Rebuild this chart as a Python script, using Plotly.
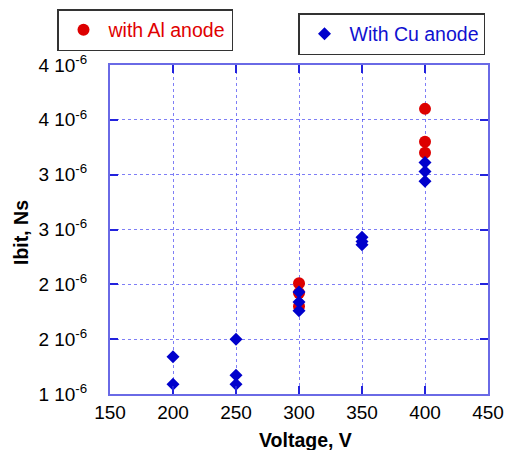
import plotly.graph_objects as go

# Data
al_voltage = [300, 300, 300, 400, 400, 400]
al_ibit = [2.01e-6, 1.92e-6, 1.80e-6, 3.60e-6, 3.30e-6, 3.20e-6]

cu_voltage = [200, 200, 250, 250, 250, 300, 300, 300, 350, 350, 350, 400, 400, 400]
cu_ibit = [1.34e-6, 1.09e-6, 1.50e-6, 1.17e-6, 1.09e-6, 1.93e-6, 1.84e-6, 1.76e-6,
           2.43e-6, 2.39e-6, 2.36e-6, 3.11e-6, 3.03e-6, 2.94e-6]

y_tickvals = [1.0e-6, 1.5e-6, 2.0e-6, 2.5e-6, 3.0e-6, 3.5e-6, 4.0e-6]
y_ticktext = ["1 10<sup>-6</sup>", "2 10<sup>-6</sup>", "2 10<sup>-6</sup>", "3 10<sup>-6</sup>",
              "3 10<sup>-6</sup>", "4 10<sup>-6</sup>", "4 10<sup>-6</sup>"]
x_tickvals = [150, 200, 250, 300, 350, 400, 450]

x_title = "Voltage, V"
y_title = "Ibit, Ns"

FONT = "Arial, Liberation Sans, sans-serif"
AXCOL = "#6a6ae6"
GRIDCOL = "rgba(40,40,240,0.6)"

fig = go.Figure()
fig.add_trace(go.Scatter(
    x=al_voltage, y=al_ibit, mode="markers", name="with Al anode",
    marker=dict(symbol="circle", size=12, color="#dd0000"),
    legend="legend"))
fig.add_trace(go.Scatter(
    x=cu_voltage, y=cu_ibit, mode="markers", name="With Cu anode",
    marker=dict(symbol="diamond", size=10, color="#0000cc"),
    legend="legend2"))

axis_common = dict(
    showline=True, linecolor=AXCOL, linewidth=2, mirror="ticks",
    ticks="inside", ticklen=8, tickcolor="#2222dd", tickwidth=1.5,
    showgrid=True, gridcolor=GRIDCOL, griddash="dot", gridwidth=1,
    zeroline=False, automargin=False,
    tickfont=dict(family=FONT, size=19, color="black"),
)

fig.update_xaxes(range=[150, 450], tickvals=x_tickvals, **axis_common)
fig.update_yaxes(range=[1.0e-6, 4.0e-6], tickvals=y_tickvals, ticktext=y_ticktext,
                 ticklabelstandoff=17, **axis_common)

fig.add_annotation(text="<b>" + x_title + "</b>", xref="paper", yref="paper",
                   x=(305 - 110) / 378, y=(394 - 440) / 329, xanchor="center", yanchor="middle",
                   showarrow=False, font=dict(family=FONT, size=19.5, color="black"))
fig.add_annotation(text="<b>" + y_title + "</b>", xref="paper", yref="paper",
                   x=(21 - 110) / 378, y=(394 - 233) / 329, xanchor="center", yanchor="middle",
                   textangle=-90, showarrow=False, font=dict(family=FONT, size=19.5, color="black"))

fig.update_layout(
    width=510, height=450,
    margin=dict(l=110, r=22, t=65, b=56, autoexpand=False),
    paper_bgcolor="white", plot_bgcolor="white",
    font=dict(family=FONT),
    showlegend=True,
    legend=dict(xref="container", yref="container", x=57/510, y=1-9/450,
                xanchor="left", yanchor="top",
                bordercolor="#333333", borderwidth=1.5, bgcolor="white",
                itemwidth=40, font=dict(family=FONT, size=19.5, color="#e00000")),
    legend2=dict(xref="container", yref="container", x=298/510, y=1-13/450,
                 xanchor="left", yanchor="top",
                 bordercolor="#333333", borderwidth=1.5, bgcolor="white",
                 itemwidth=40, font=dict(family=FONT, size=19.5, color="#1010d0")),
)

fig.write_html("out.html")
